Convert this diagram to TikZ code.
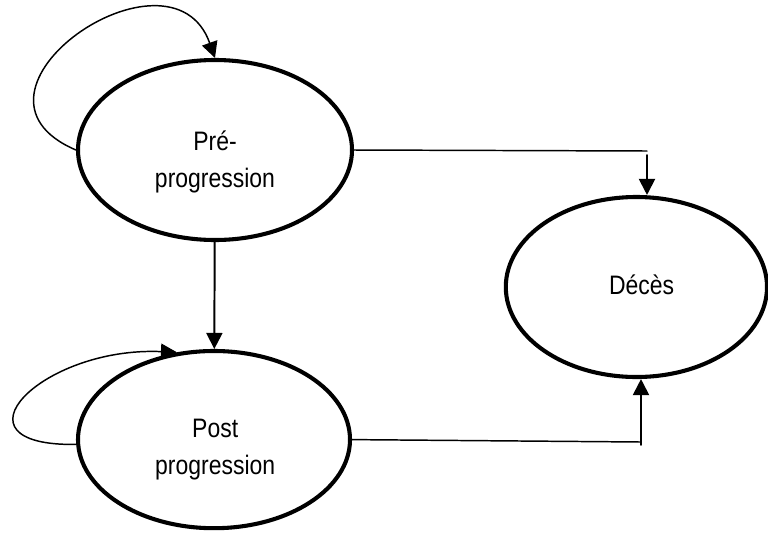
\documentclass[tikz,border=0pt]{standalone}
\usepackage{fontspec}
\setmainfont{Liberation Sans}[FakeStretch=0.86]
\usetikzlibrary{arrows, arrows.meta, calc, shapes.geometric}

\begin{document}
\begin{tikzpicture}[>={Triangle[width=0.4cm,length=0.4cm]}, line cap=round, line join=round,
	stateell/.style={ellipse, draw, line width=2.9pt, inner sep=0pt},
	statetxt/.style={align=center, inner sep=0pt, font=\fontsize{19}{26}\selectfont},
	thinline/.style={line width=1.05pt},
	midline/.style={line width=1.4pt}]

\useasboundingbox (0,0) rectangle (19.2,-13.3);

%========================
% States
%========================
\node[stateell, minimum width=6.85cm, minimum height=4.5cm] (pre) at (5.375,-3.75) {};
\node[statetxt] (pretxt) at ($(pre.center)+(0,-0.3)$) {Pré-\\progression};

\node[stateell, minimum width=6.8cm, minimum height=4.43cm] (post) at (5.35,-10.99) {};
\node[statetxt] (posttxt) at ($(post.center)+(0.03,-0.25)$) {Post\\progression};

\node[stateell, minimum width=6.53cm, minimum height=4.5cm] (deces) at (15.91,-7.175) {};
\node[statetxt] (decestxt) at ($(deces.center)+(0.13,0.05)$) {Décès};

%========================
% Transitions
%========================
% staying in a state
\draw[->, thinline] (pre.west) .. controls +(-3.4,1.45) and +(-1.1,3.1) .. (pre.north);
\draw[->, thinline] (post.182) .. controls +(-3.3,-0.05) and +(-3.4,0.15) .. (post.113);

% progression
\draw[->, midline] (pre) -- (post);

% towards death
\coordinate (ctop) at (16.175,-3.775);
\draw[thinline] (pre.east) -- (ctop);
\draw[->, midline] ($(ctop)+(0,-0.1)$) -- (deces.north -| ctop);

\coordinate (cbot) at (16.025,-11.05);
\draw[thinline] (post.east) -- (cbot);
\draw[->, midline] ($(cbot)+(0,-0.07)$) -- (deces.south -| cbot);

\end{tikzpicture}
\end{document}
